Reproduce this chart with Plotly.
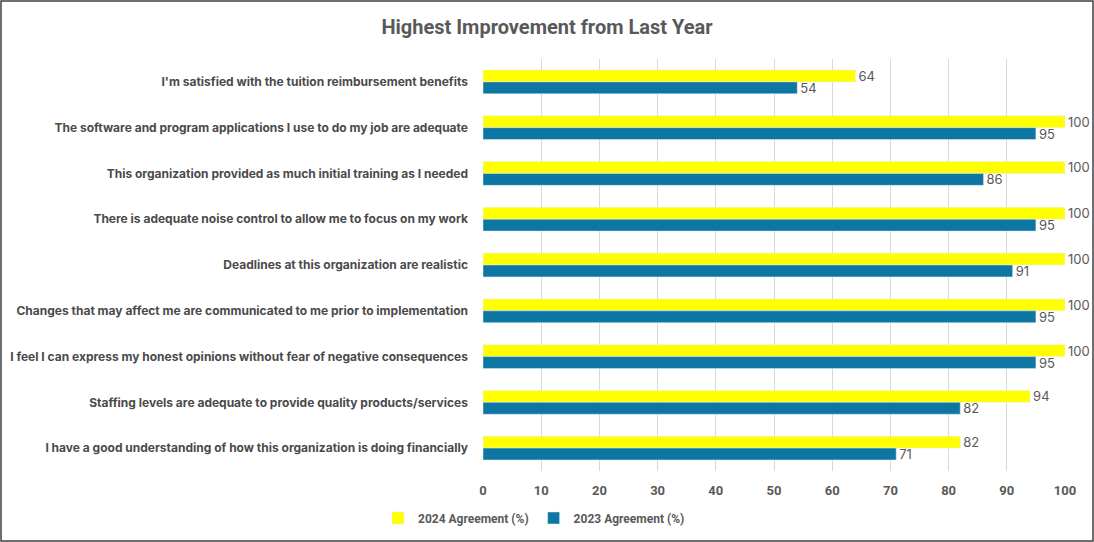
import plotly.graph_objects as go

categories = [
    "I'm satisfied with the tuition reimbursement benefits",
    "The software and program applications I use to do my job are adequate",
    "This organization provided as much initial training as I needed",
    "There is adequate noise control to allow me to focus on my work",
    "Deadlines at this organization are realistic",
    "Changes that may affect me are communicated to me prior to implementation",
    "I feel I can express my honest opinions without fear of negative consequences",
    "Staffing levels are adequate to provide quality products/services",
    "I have a good understanding of how this organization is doing financially",
]
agree_2024 = [64, 100, 100, 100, 100, 100, 100, 94, 82]
agree_2023 = [54, 95, 86, 95, 91, 95, 95, 82, 71]
tick_vals = [0, 10, 20, 30, 40, 50, 60, 70, 80, 90, 100]

W, H = 1094, 542
ML, MR, MT, MB = 483, 29, 59, 71
PW, PH = W - ML - MR, H - MT - MB

NARROW = "Roboto, sans-serif"
label_font = dict(family="Inter, Liberation Sans, sans-serif", size=13, color="#595959")

fig = go.Figure()
fig.add_trace(go.Bar(
    y=categories, x=agree_2024, orientation="h", name="2024 Agreement (%)",
    marker=dict(color="#FFFF00"), text=agree_2024, textposition="outside",
    textfont=label_font, cliponaxis=False, constraintext="none",
))
fig.add_trace(go.Bar(
    y=categories, x=agree_2023, orientation="h", name="2023 Agreement (%)",
    marker=dict(color="#0E76A3"), text=agree_2023, textposition="outside",
    textfont=label_font, cliponaxis=False, constraintext="none",
))

def px_x(px):
    return (px - ML) / PW

def px_y(py):
    return (H - MB - py) / PH

fig.update_layout(
    width=W, height=H,
    margin=dict(l=ML, r=MR, t=MT, b=MB, autoexpand=False),
    paper_bgcolor="white", plot_bgcolor="white",
    barmode="group", bargap=0.48, bargroupgap=0,
    title=dict(text="<b>Highest Improvement from Last Year</b>", x=0.5, xref="container",
               xanchor="center", y=1 - 27 / H, yanchor="middle",
               font=dict(family=NARROW, size=20, color="#595959")),
    xaxis=dict(range=[0, 100], tickvals=tick_vals, showgrid=True, gridcolor="#D9D9D9",
               gridwidth=1, zeroline=False, showline=False, ticks="",
               tickfont=dict(family=NARROW, size=13, color="#595959", weight="bold"),
               ticklabelstandoff=10, automargin=False),
    yaxis=dict(autorange="reversed", showgrid=False, showline=False, ticks="",
               tickfont=dict(family="Inter, Liberation Sans, sans-serif", size=12, color="#4A4A4A",
                             weight="bold"),
               ticklabelstandoff=14, automargin=False),
    legend=dict(orientation="h", x=px_x(378), y=px_y(518), xanchor="left", yanchor="middle",
                font=dict(family=NARROW, size=12, color="#595959", weight="bold"),
                itemwidth=30, traceorder="normal"),
    showlegend=True,
    shapes=[dict(type="rect", xref="paper", yref="paper",
                 x0=px_x(1), x1=px_x(1093), y0=px_y(541), y1=px_y(1),
                 line=dict(color="#404040", width=1.5), fillcolor="rgba(0,0,0,0)", layer="above")],
)

fig.write_html("out.html", config={"displayModeBar": False},
               post_script="document.body.style.margin='0';document.body.style.overflow='hidden';")
